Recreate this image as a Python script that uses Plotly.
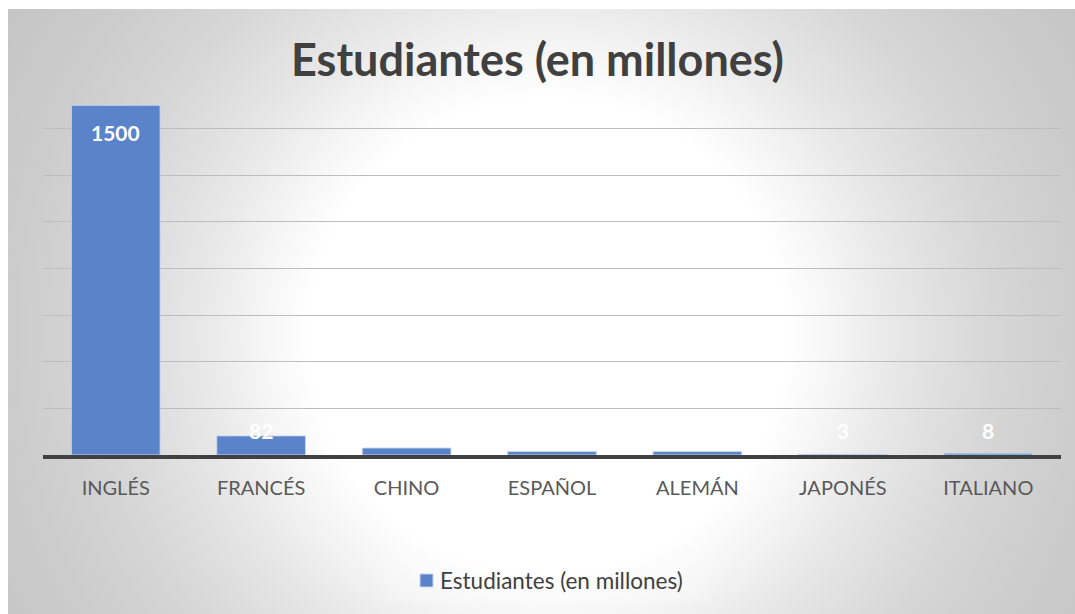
import base64
import plotly.graph_objects as go

# Data: language learners worldwide, in millions
idiomas = ["INGLÉS", "FRANCÉS", "CHINO", "ESPAÑOL", "ALEMÁN", "JAPONÉS", "ITALIANO"]
estudiantes = [1500, 82, 30, 14.5, 14.5, 3, 8]
serie = "Estudiantes (en millones)"
y_max = 1600
y_tick_step = 200

W, H = 1075, 614
L, R, T, B = 43, 14, 82, 159
plot_w = W - L - R
plot_h = H - T - B
px_per_unit = plot_h / y_max
bar_color = "#5b83c9"

# Radial white-to-gray backdrop of the chart area, as an SVG image (pixel units)
svg = """<svg xmlns='http://www.w3.org/2000/svg' width='1067' height='605' viewBox='0 0 1067 605' preserveAspectRatio='none'>
<defs><radialGradient id='g' cx='540' cy='327' r='640' gradientUnits='userSpaceOnUse'>
<stop offset='0' stop-color='#ffffff'/>
<stop offset='0.37' stop-color='#ffffff'/>
<stop offset='0.45' stop-color='#f5f5f5'/>
<stop offset='0.54' stop-color='#e8e8e8'/>
<stop offset='0.70' stop-color='#d6d6d6'/>
<stop offset='0.84' stop-color='#cccccc'/>
<stop offset='1' stop-color='#c4c4c4'/>
</radialGradient></defs>
<rect x='0' y='0' width='1067' height='605' fill='url(#g)'/>
</svg>"""
svg_uri = "data:image/svg+xml;base64," + base64.b64encode(svg.encode()).decode()

area_x0, area_y0 = 8, 9


def px_to_paper_x(px):
    return (px - L) / plot_w


def px_to_paper_y(py):
    return (H - B - py) / plot_h


fig = go.Figure()
fig.add_trace(go.Bar(
    x=idiomas,
    y=estudiantes,
    name=serie,
    marker=dict(color=bar_color, line=dict(color="rgba(200,215,240,0.9)", width=1)),
    showlegend=False,
))

# Value labels in white: inside the top of tall bars, just above the axis for short ones
for cat, val in zip(idiomas, estudiantes):
    bar_px = val * px_per_unit
    if bar_px - 27 > 25:
        y, shift = val, -27
    else:
        y, shift = 0, 25
    fig.add_annotation(
        x=cat, y=y, yshift=shift, text=f"<b>{val:g}</b>", showarrow=False,
        font=dict(family="Lato", size=21, color="white"),
        xanchor="center", yanchor="middle",
    )

fig.add_layout_image(
    source=svg_uri, xref="paper", yref="paper",
    x=px_to_paper_x(area_x0), y=px_to_paper_y(area_y0),
    sizex=(W - area_x0) / plot_w, sizey=(H - area_y0) / plot_h,
    xanchor="left", yanchor="top", sizing="stretch", layer="below",
)

# Legend: faint box, colour swatch and series name
fig.add_shape(
    type="rect", xref="paper", yref="paper",
    x0=px_to_paper_x(385), x1=px_to_paper_x(710),
    y0=px_to_paper_y(602), y1=px_to_paper_y(556),
    fillcolor="rgba(255,255,255,0.2)", line=dict(width=0), layer="below",
)
fig.add_shape(
    type="rect", xref="paper", yref="paper",
    x0=px_to_paper_x(420), x1=px_to_paper_x(433),
    y0=px_to_paper_y(587), y1=px_to_paper_y(574),
    fillcolor=bar_color, line=dict(color="rgba(200,215,240,0.9)", width=1),
)
fig.add_annotation(
    xref="paper", yref="paper", x=px_to_paper_x(438), y=px_to_paper_y(580),
    text=serie, showarrow=False, xanchor="left", yanchor="middle",
    font=dict(family="Lato", size=22.5, color="#404040"),
)

fig.update_layout(
    width=W, height=H,
    margin=dict(l=L, r=R, t=T, b=B),
    paper_bgcolor="white",
    plot_bgcolor="rgba(0,0,0,0)",
    bargap=0.39,
    title=dict(
        text=f"<b>{serie}</b>",
        font=dict(family="Lato", size=45, color="#404040"),
        x=0.5, xref="container", xanchor="center",
        y=1 - 60 / H, yref="container", yanchor="middle",
    ),
    xaxis=dict(
        showline=True, linecolor="#404040", linewidth=4,
        showgrid=False, ticks="", ticklabelstandoff=12,
        tickfont=dict(family="Lato", size=20, color="#595959"),
    ),
    yaxis=dict(
        range=[0, y_max], dtick=y_tick_step, showticklabels=False,
        showgrid=True, gridcolor="#bdbdbd", gridwidth=1,
        zeroline=False, showline=False,
    ),
    showlegend=False,
)

fig.write_html("out.html")
